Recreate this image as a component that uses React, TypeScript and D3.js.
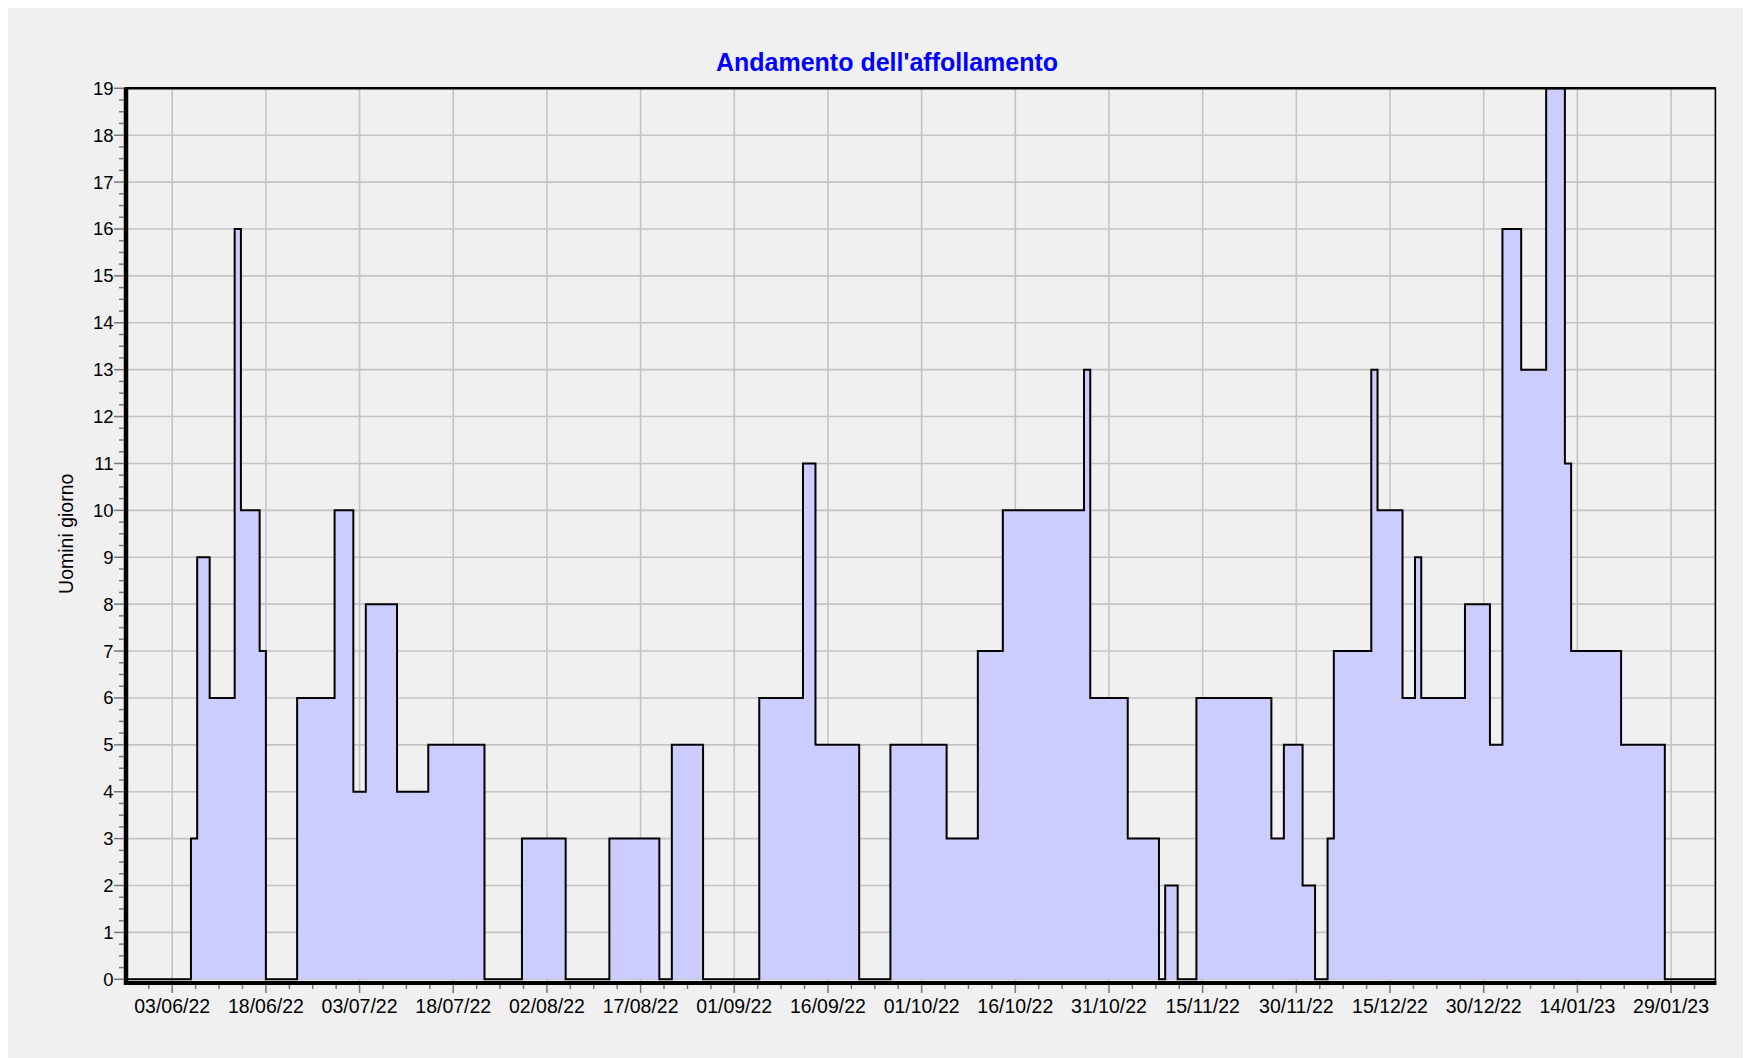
import React from "react";
import * as d3 from "d3";

const TITLE = "Andamento dell'affollamento";
const Y_LABEL = "Uomini giorno";

const stepDates = [
  "2022-05-26", "2022-06-06", "2022-06-07", "2022-06-09", "2022-06-13", "2022-06-14",
  "2022-06-17", "2022-06-18", "2022-06-23", "2022-06-29", "2022-07-02", "2022-07-04",
  "2022-07-09", "2022-07-14", "2022-07-23", "2022-07-29", "2022-08-05", "2022-08-12",
  "2022-08-20", "2022-08-22", "2022-08-27", "2022-09-05", "2022-09-12", "2022-09-14",
  "2022-09-21", "2022-09-26", "2022-10-05", "2022-10-10", "2022-10-14", "2022-10-27",
  "2022-10-28", "2022-11-03", "2022-11-08", "2022-11-09", "2022-11-11", "2022-11-14",
  "2022-11-26", "2022-11-28", "2022-12-01", "2022-12-03", "2022-12-05", "2022-12-06",
  "2022-12-12", "2022-12-13", "2022-12-17", "2022-12-19", "2022-12-20", "2022-12-27",
  "2022-12-31", "2023-01-02", "2023-01-05", "2023-01-09", "2023-01-12", "2023-01-13",
  "2023-01-21", "2023-01-28", "2023-02-06",
];
const stepValues = [
  0, 3, 9, 6, 16, 10,
  7, 0, 6, 10, 4, 8,
  4, 5, 0, 3, 0, 3,
  0, 5, 0, 6, 11, 5,
  0, 5, 3, 7, 10, 13,
  6, 3, 0, 2, 0, 6,
  3, 5, 2, 0, 3, 7,
  13, 10, 6, 9, 6, 8,
  5, 16, 13, 19, 11, 7,
  5, 0, 0,
];

const xTickLabels = [
  "03/06/22", "18/06/22", "03/07/22", "18/07/22", "02/08/22", "17/08/22",
  "01/09/22", "16/09/22", "01/10/22", "16/10/22", "31/10/22", "15/11/22",
  "30/11/22", "15/12/22", "30/12/22", "14/01/23", "29/01/23",
];
const yTickValues = [0, 1, 2, 3, 4, 5, 6, 7, 8, 9, 10, 11, 12, 13, 14, 15, 16, 17, 18, 19];

const X_DOMAIN = ["2022-05-26T14:24:00", "2023-02-05T02:24:00"];
const Y_DOMAIN = [0, 19];

const W = 1743;
const H = 1050;
const LEFT = 118;
const RIGHT = 1707.4;
const TOP = 80.3;
const Y0 = 971.3;
const BOTTOM = 975;
const FONT = "'Liberation Sans', Arial, Helvetica, sans-serif";
const DAY = 86400000;

export default function App() {
  const parseDay = d3.timeParse("%Y-%m-%d");
  const parseTick = d3.timeParse("%d/%m/%y");
  const data = stepDates.map((s, i) => ({ date: parseDay(s) as Date, value: stepValues[i] }));

  const x = d3
    .scaleTime()
    .domain([new Date(X_DOMAIN[0]), new Date(X_DOMAIN[1])])
    .range([LEFT, RIGHT]);
  const y = d3.scaleLinear().domain(Y_DOMAIN).range([Y0, TOP]);

  const area = d3
    .area<{ date: Date; value: number }>()
    .curve(d3.curveStepAfter)
    .x((d) => x(d.date))
    .y0(y(0))
    .y1((d) => y(d.value));
  const line = d3
    .line<{ date: Date; value: number }>()
    .curve(d3.curveStepAfter)
    .x((d) => x(d.date))
    .y((d) => y(d.value));

  const majorTicks = xTickLabels.map((l) => ({ label: l, date: parseTick(l) as Date }));
  const [dMin, dMax] = x.domain();
  const t0 = majorTicks[0].date.getTime();
  const minorX: number[] = [];
  for (let k = -10; k < 80; k++) {
    const t = t0 + k * 3.75 * DAY;
    if (k % 4 === 0) continue;
    if (t > dMin.getTime() && t < dMax.getTime()) minorX.push(x(new Date(t)));
  }
  const minorY: number[] = [];
  for (let v = 0; v < 19; v++) {
    for (let q = 1; q < 4; q++) minorY.push(y(v + q / 4));
  }

  return (
    <svg width={W} height={H} style={{ display: "block", background: "#f0f0f0" }} fontFamily={FONT}>
      <defs>
        <clipPath id="plotclip">
          <rect x={LEFT} y={TOP - 2} width={RIGHT - LEFT} height={BOTTOM - TOP + 2} />
        </clipPath>
      </defs>
      <rect x={0} y={0} width={W} height={H} fill="#f0f0f0" />

      {/* grid */}
      <g stroke="#c4c4c4" strokeWidth={1.6}>
        {yTickValues.map((v) => (
          <line key={"gy" + v} x1={LEFT} x2={RIGHT} y1={y(v)} y2={y(v)} />
        ))}
        {majorTicks.map((t) => (
          <line key={"gx" + t.label} x1={x(t.date)} x2={x(t.date)} y1={TOP} y2={BOTTOM} />
        ))}
      </g>

      {/* series */}
      <g clipPath="url(#plotclip)">
        <path d={area(data) || ""} fill="#ccccff" stroke="none" />
        <path d={line(data) || ""} fill="none" stroke="#000" strokeWidth={2} strokeLinejoin="miter" />
      </g>

      {/* frame */}
      <line x1={LEFT} x2={RIGHT} y1={TOP} y2={TOP} stroke="#000" strokeWidth={2.5} />
      <line x1={RIGHT} x2={RIGHT} y1={TOP - 1} y2={BOTTOM} stroke="#000" strokeWidth={1.6} />
      <line x1={LEFT} x2={LEFT} y1={TOP - 1} y2={BOTTOM + 2} stroke="#000" strokeWidth={4.5} />
      <line x1={LEFT - 2} x2={RIGHT + 1} y1={BOTTOM} y2={BOTTOM} stroke="#000" strokeWidth={4} />

      {/* y ticks */}
      <g stroke="#777" strokeWidth={1.5}>
        {yTickValues.map((v) => (
          <line key={"ty" + v} x1={LEFT - 12} x2={LEFT - 2} y1={y(v)} y2={y(v)} />
        ))}
        {minorY.map((py, i) => (
          <line key={"my" + i} x1={LEFT - 7} x2={LEFT - 2} y1={py} y2={py} />
        ))}
      </g>
      <g fontSize={18.5} fill="#000" textAnchor="end">
        {yTickValues.map((v) => (
          <text key={"ly" + v} x={LEFT - 12.5} y={y(v)} dy="0.35em">
            {v}
          </text>
        ))}
      </g>

      {/* x ticks */}
      <g stroke="#777" strokeWidth={1.5}>
        {majorTicks.map((t) => (
          <line key={"tx" + t.label} x1={x(t.date)} x2={x(t.date)} y1={BOTTOM + 2} y2={BOTTOM + 10} />
        ))}
        {minorX.map((px, i) => (
          <line key={"mx" + i} x1={px} x2={px} y1={BOTTOM + 2} y2={BOTTOM + 6} />
        ))}
      </g>
      <g fontSize={19.5} fill="#000" textAnchor="middle">
        {majorTicks.map((t) => (
          <text key={"lx" + t.label} x={x(t.date)} y={1005}>
            {t.label}
          </text>
        ))}
      </g>

      {/* title & axis label */}
      <text x={879} y={63} textAnchor="middle" fontSize={25} fontWeight="bold" fill="#0000ff">
        {TITLE}
      </text>
      <text transform={`translate(65, ${(TOP + Y0) / 2}) rotate(-90)`} textAnchor="middle" fontSize={19.5} fill="#000">
        {Y_LABEL}
      </text>
    </svg>
  );
}
